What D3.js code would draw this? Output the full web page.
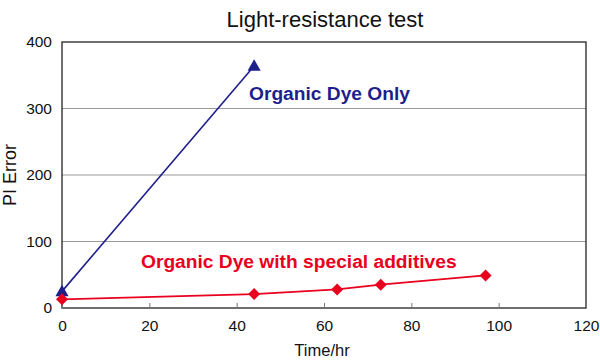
<!DOCTYPE html>
<html><head><meta charset="utf-8">
<script src="https://cdn.jsdelivr.net/npm/d3@7"></script>
<style>body{margin:0;background:#fff}svg{display:block;font-family:"Liberation Sans",Arial,sans-serif}</style>
</head><body><svg id="c" width="600" height="360"></svg>
<script>
const xTicks = [0,20,40,60,80,100,120];
const yTicks = [0,100,200,300,400];
const dyeOnlyX = [0,44];
const dyeOnlyY = [25,364];
const additivesX = [0,44,63,73,97];
const additivesY = [13,21,28,35,49];
const title = "Light-resistance test";
const xLabel = "Time/hr";
const yLabel = "PI Error";
const seriesNames = ["Organic Dye Only","Organic Dye with special additives"];

const svg = d3.select("#c");
const m = {l:62,r:14,t:42,b:52};
const W=600,H=360;
const x = d3.scaleLinear().domain([0,120]).range([m.l,W-m.r]);
const y = d3.scaleLinear().domain([0,400]).range([H-m.b,m.t]);

svg.append("g").selectAll("line").data(yTicks.filter(d=>d>0&&d<400)).join("line")
  .attr("x1",x(0)).attr("x2",x(120)).attr("y1",d=>y(d)).attr("y2",d=>y(d))
  .attr("stroke","#999").attr("stroke-width",1.2);

svg.append("rect").attr("x",x(0)).attr("y",y(400)).attr("width",x(120)-x(0)).attr("height",y(0)-y(400))
  .attr("fill","none").attr("stroke","#222").attr("stroke-width",1.3);

const xa = svg.append("g").attr("transform",`translate(0,${y(0)})`)
  .call(d3.axisBottom(x).tickValues(xTicks).tickSize(-5).tickPadding(12).tickFormat(d3.format("d")));
xa.select(".domain").remove();
xa.selectAll(".tick line").attr("stroke","#777");
xa.selectAll("text").attr("font-size",15.5).attr("fill","#111").attr("font-family","Liberation Sans, Arial, sans-serif");

const ya = svg.append("g").attr("transform",`translate(${x(0)},0)`)
  .call(d3.axisLeft(y).tickValues(yTicks).tickSize(0).tickPadding(10));
ya.select(".domain").remove();
ya.selectAll("text").attr("font-size",15.5).attr("fill","#111").attr("font-family","Liberation Sans, Arial, sans-serif");

svg.append("text").attr("x",325).attr("y",27).attr("text-anchor","middle").attr("font-size",22).attr("fill","#111").text(title);
svg.append("text").attr("x",322).attr("y",356).attr("text-anchor","middle").attr("font-size",16.5).attr("fill","#111").text(xLabel);
svg.append("text").attr("transform",`translate(16,${(y(0)+y(400))/2}) rotate(-90)`).attr("text-anchor","middle").attr("font-size",18).attr("fill","#111").text(yLabel);

const blue="#1f1f8c", red="#e8001e";
const line = d3.line().x(d=>x(d[0])).y(d=>y(d[1]));
const s1 = dyeOnlyX.map((v,i)=>[v,dyeOnlyY[i]]);
const s2 = additivesX.map((v,i)=>[v,additivesY[i]]);
svg.append("path").datum(s1).attr("d",line).attr("fill","none").attr("stroke",blue).attr("stroke-width",1.6);
svg.append("path").datum(s2).attr("d",line).attr("fill","none").attr("stroke",red).attr("stroke-width",1.8);

svg.append("g").selectAll("path").data(s1).join("path")
  .attr("d",d3.symbol(d3.symbolTriangle,75)).attr("transform",d=>`translate(${x(d[0])},${y(d[1])+1})`).attr("fill",blue);
svg.append("g").selectAll("path").data(s2).join("path")
  .attr("d",d3.symbol(d3.symbolSquare,72)).attr("transform",d=>`translate(${x(d[0])},${y(d[1])}) rotate(45)`).attr("fill",red);

svg.append("text").attr("x",249).attr("y",100).attr("font-size",19.2).attr("font-weight","bold").attr("fill",blue).text(seriesNames[0]);
svg.append("text").attr("x",141).attr("y",268).attr("font-size",19.2).attr("font-weight","bold").attr("fill",red).text(seriesNames[1]);
</script></body></html>
